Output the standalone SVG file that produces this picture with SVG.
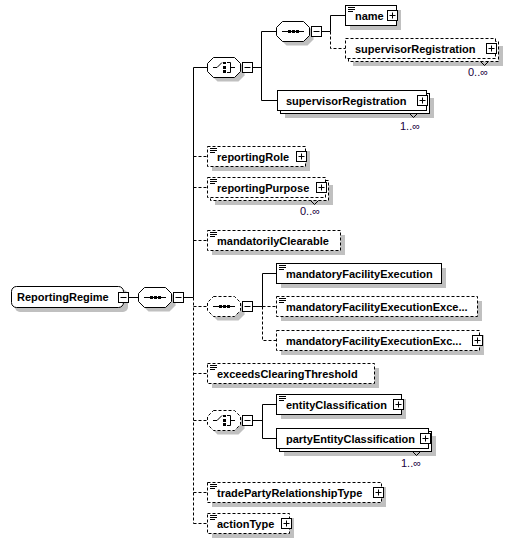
<svg xmlns="http://www.w3.org/2000/svg" xmlns:xlink="http://www.w3.org/1999/xlink" width="511" height="544" viewBox="0 0 511 544">
<style>
.box{fill:#fff;stroke:#000;stroke-width:1}
.dash{stroke-dasharray:3 2}
.sh{fill:#c0c0c0;stroke:none}
.ln{stroke:#000;stroke-width:1;fill:none}
.t{font-family:"Liberation Sans",Arial,sans-serif;font-weight:bold;font-size:11px;fill:#000}
.occ{font-family:"Liberation Sans",Arial,sans-serif;font-size:11px;fill:#200040}
</style>
<defs>
<path id="oct" d="M6.5 0.5h21l6 6v8l-6 6h-21l-6-6v-8z"/>
<path id="doc" d="M0 0.5h7M0 2.5h7M0 4.5h5" stroke="#000" stroke-width="1" fill="none"/>
<g id="plus"><rect x="0.5" y="0.5" width="10" height="10" fill="#fff" stroke="#000"/><path d="M2.5 5.5h6M5.5 2.5v6" stroke="#000"/></g>
<g id="minus"><rect x="0.5" y="0.5" width="10" height="10" fill="#fff" stroke="#000"/><path d="M2.5 5.5h6" stroke="#000"/></g>
<g id="seqicon" stroke="#000" fill="#000"><path d="M6 10.5h22" fill="none"/><rect x="12" y="9" width="3" height="3" stroke="none"/><rect x="16" y="9" width="3" height="3" stroke="none"/><rect x="20" y="9" width="3" height="3" stroke="none"/></g>
<g id="choiceicon" stroke="#000" fill="none"><path d="M6 10.5h4l5-5"/><rect x="16" y="5" width="3" height="2" fill="#000" stroke="none"/><rect x="16" y="9" width="3" height="3" fill="#000" stroke="none"/><rect x="16" y="13" width="3" height="3" fill="#000" stroke="none"/><path d="M20 5.5h3.5v10H20M23.5 10.5H28"/></g>
</defs>

<g id="connectors" class="ln">
<path d="M128.5 297.5H138.5M171.5 297.5H173.5M183.5 297.5H193.5"/>
<path d="M193.5 67.5V297.5"/>
<path class="dash" d="M193.5 297.5V523.5"/>
<path d="M193.5 67.5H207.5M240.5 67.5H242.5M252.5 67.5H261.5M261.5 31.5V100.5M261.5 31.5H276.5M261.5 100.5H277.5"/>
<path d="M309.5 31.5H311.5M321.5 31.5H330.5M330.5 15.5V31.5M330.5 15.5H345.5"/>
<path class="dash" d="M330.5 31.5V48.5H345.5"/>
<path class="dash" d="M193.5 156.5H207.5M193.5 187.5H207.5M193.5 240.5H207.5M193.5 306.5H207.5M193.5 373.5H207.5M193.5 420.5H207.5M193.5 492.5H207.5M193.5 523.5H207.5"/>
<path d="M240.5 306.5H242.5M252.5 306.5H262.5M262.5 273.5V306.5M262.5 273.5H276.5"/>
<path class="dash" d="M262.5 306.5V340.5H276.5M262.5 306.5H276.5"/>
<path d="M240.5 420.5H242.5M252.5 420.5H262.5M262.5 404.5V438.5M262.5 404.5H276.5M262.5 438.5H276.5"/>
</g>

<g id="ReportingRegime">
<rect class="sh" x="15" y="290" width="113" height="22" rx="5"/>
<rect class="box" x="11.5" y="286.5" width="112" height="21" rx="5"/>
<text class="t" x="17" y="301">ReportingRegime</text>
<use xlink:href="#minus" x="118" y="292"/>
</g>

<g id="seq_root">
<use xlink:href="#oct" class="sh" x="142" y="291"/>
<use xlink:href="#oct" class="box" x="138" y="287"/>
<use xlink:href="#seqicon" x="138" y="287"/>
<use xlink:href="#minus" x="173" y="292"/>
</g>

<g id="choice_1">
<use xlink:href="#oct" class="sh" x="211" y="61"/>
<use xlink:href="#oct" class="box" x="207" y="57"/>
<use xlink:href="#choiceicon" x="207" y="57"/>
<use xlink:href="#minus" x="242" y="62"/>
</g>

<g id="seq_1">
<use xlink:href="#oct" class="sh" x="280" y="25"/>
<use xlink:href="#oct" class="box" x="276" y="21"/>
<use xlink:href="#seqicon" x="276" y="21"/>
<use xlink:href="#minus" x="311" y="26"/>
</g>

<g id="name">
<rect class="sh" x="350" y="10" width="51" height="20"/>
<rect class="box" x="345.5" y="5.5" width="51" height="20"/>
<use xlink:href="#doc" x="348" y="7"/>
<text class="t" x="355" y="19.5">name</text>
<use xlink:href="#plus" x="387" y="10"/>
</g>

<g id="supervisorRegistration_opt">
<rect class="sh" x="353" y="46" width="150" height="20"/>
<rect class="box dash" x="348.5" y="41.5" width="150" height="20"/>
<rect class="box dash" x="345.5" y="38.5" width="150" height="20"/>
<path d="M480.5 61.5L484.5 65.5L488.5 61.5" class="ln" fill="#fff"/>
<text class="t" x="355" y="52.5">supervisorRegistration</text>
<use xlink:href="#plus" x="486" y="43"/>
<text class="occ" x="468" y="76">0..∞</text>
</g>

<g id="supervisorRegistration">
<rect class="sh" x="285" y="98" width="149" height="20"/>
<rect class="box" x="280.5" y="93.5" width="149" height="20"/>
<rect class="box" x="277.5" y="90.5" width="149" height="20"/>
<path d="M409.5 113.5L413.5 117.5L417.5 113.5" class="ln"/>
<text class="t" x="286" y="104.5">supervisorRegistration</text>
<use xlink:href="#plus" x="417" y="95"/>
<text class="occ" x="400" y="130">1..∞</text>
</g>

<g id="reportingRole">
<rect class="sh" x="212" y="151" width="98" height="20"/>
<rect class="box dash" x="207.5" y="146.5" width="98" height="20"/>
<use xlink:href="#doc" x="210" y="148"/>
<text class="t" x="217" y="160.5">reportingRole</text>
<use xlink:href="#plus" x="296" y="151"/>
</g>

<g id="reportingPurpose">
<rect class="sh" x="215" y="185" width="118" height="20"/>
<rect class="box dash" x="210.5" y="180.5" width="118" height="20"/>
<rect class="box dash" x="207.5" y="177.5" width="118" height="20"/>
<path d="M310.5 200.5L314.5 204.5L318.5 200.5" class="ln"/>
<use xlink:href="#doc" x="210" y="179"/>
<text class="t" x="217" y="191.5">reportingPurpose</text>
<use xlink:href="#plus" x="316" y="182"/>
<text class="occ" x="300" y="215">0..∞</text>
</g>

<g id="mandatorilyClearable">
<rect class="sh" x="212" y="235" width="133" height="20"/>
<rect class="box dash" x="207.5" y="230.5" width="133" height="20"/>
<use xlink:href="#doc" x="210" y="232"/>
<text class="t" x="217" y="244.5">mandatorilyClearable</text>
</g>

<g id="seq_2">
<use xlink:href="#oct" class="sh" x="211" y="300"/>
<use xlink:href="#oct" class="box dash" x="207" y="296"/>
<use xlink:href="#seqicon" x="207" y="296"/>
<use xlink:href="#minus" x="242" y="301"/>
</g>

<g id="mandatoryFacilityExecution">
<rect class="sh" x="281" y="268" width="165" height="20"/>
<rect class="box" x="276.5" y="263.5" width="165" height="20"/>
<use xlink:href="#doc" x="279" y="265"/>
<text class="t" x="286" y="277.5">mandatoryFacilityExecution</text>
</g>

<g id="mandatoryFacilityExecutionExce">
<rect class="sh" x="281" y="301" width="201" height="20"/>
<rect class="box dash" x="276.5" y="296.5" width="201" height="20"/>
<use xlink:href="#doc" x="279" y="298"/>
<text class="t" x="286" y="310.5">mandatoryFacilityExecutionExce...</text>
</g>

<g id="mandatoryFacilityExecutionExc">
<rect class="sh" x="281" y="335" width="203" height="20"/>
<rect class="box dash" x="276.5" y="330.5" width="203" height="20"/>
<text class="t" x="286" y="344.5">mandatoryFacilityExecutionExc...</text>
<use xlink:href="#plus" x="472" y="335"/>
</g>

<g id="exceedsClearingThreshold">
<rect class="sh" x="212" y="368" width="167" height="20"/>
<rect class="box dash" x="207.5" y="363.5" width="167" height="20"/>
<use xlink:href="#doc" x="210" y="365"/>
<text class="t" x="217" y="377.5">exceedsClearingThreshold</text>
</g>

<g id="choice_2">
<use xlink:href="#oct" class="sh" x="211" y="414"/>
<use xlink:href="#oct" class="box dash" x="207" y="410"/>
<use xlink:href="#choiceicon" x="207" y="410"/>
<use xlink:href="#minus" x="242" y="415"/>
</g>

<g id="entityClassification">
<rect class="sh" x="281" y="399" width="125" height="20"/>
<rect class="box" x="276.5" y="394.5" width="125" height="20"/>
<use xlink:href="#doc" x="279" y="396"/>
<text class="t" x="286" y="408.5">entityClassification</text>
<use xlink:href="#plus" x="393" y="399"/>
</g>

<g id="partyEntityClassification">
<rect class="sh" x="284" y="436" width="152" height="20"/>
<rect class="box" x="279.5" y="431.5" width="152" height="20"/>
<rect class="box" x="276.5" y="428.5" width="152" height="20"/>
<path d="M412.5 451.5L416.5 455.5L420.5 451.5" class="ln"/>
<text class="t" x="286" y="442.5">partyEntityClassification</text>
<use xlink:href="#plus" x="420" y="433"/>
<text class="occ" x="401" y="467">1..∞</text>
</g>

<g id="tradePartyRelationshipType">
<rect class="sh" x="212" y="487" width="174" height="20"/>
<rect class="box dash" x="207.5" y="482.5" width="174" height="20"/>
<use xlink:href="#doc" x="210" y="484"/>
<text class="t" x="217" y="496.5">tradePartyRelationshipType</text>
<use xlink:href="#plus" x="373" y="487"/>
</g>

<g id="actionType">
<rect class="sh" x="212" y="518" width="82" height="20"/>
<rect class="box dash" x="207.5" y="513.5" width="82" height="20"/>
<use xlink:href="#doc" x="210" y="515"/>
<text class="t" x="217" y="527.5">actionType</text>
<use xlink:href="#plus" x="281" y="518"/>
</g>
</svg>
